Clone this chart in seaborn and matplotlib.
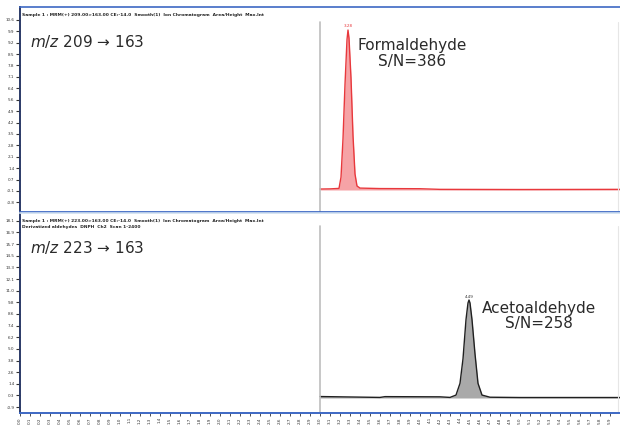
import numpy as np
import matplotlib
matplotlib.use("Agg")
import matplotlib.pyplot as plt
import seaborn as sns

# Chromatogram traces (time in min, intensity in % of peak height)
fa_time = [3.00, 3.10, 3.19, 3.21, 3.23, 3.25, 3.27, 3.28, 3.29, 3.31, 3.33, 3.35,
           3.37, 3.40, 3.60, 4.00, 4.20, 5.00, 6.00]
fa_int = [0.6, 0.7, 1.0, 8, 32, 66, 94, 100, 95, 70, 34, 10, 2.5, 1.2, 0.9, 0.8, 0.4, 0.3, 0.4]

ac_time = [3.00, 3.60, 3.65, 4.20, 4.30, 4.36, 4.40, 4.43, 4.46, 4.48, 4.49, 4.50,
           4.52, 4.55, 4.58, 4.62, 4.70, 5.00, 6.00]
ac_int = [1.5, 0.6, 1.4, 1.2, 0.6, 3, 15, 40, 80, 97, 100, 97, 80, 45, 15, 3, 0.8, 0.5, 0.5]

transitions = ["$\\it{m/z}$ 209 \u2192 163", "$\\it{m/z}$ 223 \u2192 163"]
compounds = ["Formaldehyde\nS/N=386", "Acetoaldehyde\nS/N=258"]
peak_rt = ["3.28", "4.49"]
headers = [
    ["Sample 1 : MRM(+) 209.00>163.00 CE:-14.0  Smooth(1)  Ion Chromatogram  Area/Height  Max.Int"],
    ["Sample 1 : MRM(+) 223.00>163.00 CE:-14.0  Smooth(1)  Ion Chromatogram  Area/Height  Max.Int",
     "Derivatized aldehydes  DNPH  Ch2  Scan 1-2400"],
]

x_ticks = np.round(np.arange(0.0, 5.95, 0.1), 1)
x_labels = [f"{v:.1f}" for v in x_ticks]

sns.set_style("white")
plt.rcParams['font.family'] = ['DejaVu Sans']

fig = plt.figure(figsize=(6.2, 4.25), dpi=100)
W, H = 620, 425
ax1 = fig.add_axes([20 / W, 1 - 212 / H, 600 / W, 205 / H])
ax2 = fig.add_axes([20 / W, 1 - 413 / H, 600 / W, 200 / H])

blue = "#3d68c4"
panels = [
    (ax1, fa_time, fa_int, "#e8383c", "#f6a3a6", (-13.75, 114.4)),
    (ax2, ac_time, ac_int, "#202020", "#a9a9a9", (-15.3, 188.8)),
]

for i, (ax, t, y, lc, fc, ylim) in enumerate(panels):
    ax.fill_between(t, 0, y, color=fc, lw=0)
    sns.lineplot(x=t, y=y, ax=ax, color=lc, lw=1.0)
    ax.set_xlim(0, 6.0)
    ax.set_ylim(*ylim)
    ax.set_xlabel("")
    ax.set_ylabel("")

    # start of displayed chromatogram
    top_frac = 1 - (15 if i == 0 else 13) / (205 if i == 0 else 200)
    ax.axvline(3.0, ymin=0, ymax=top_frac, color="#bdbdbd", lw=1.2)
    ax.axvline(5.98, ymin=0, ymax=top_frac, color="#e6e6e6", lw=0.8)

    ax.spines["right"].set_visible(False)
    ax.spines["left"].set_color("#2b3a67")
    ax.spines["left"].set_linewidth(1.4)
    ax.spines["bottom"].set_color(blue)
    ax.spines["bottom"].set_linewidth(2.0 if i == 0 else 1.4)
    ax.spines["top"].set_color(blue if i == 0 else "#d0e0f0")
    ax.spines["top"].set_linewidth(1.2)

    yt = np.linspace(ylim[0] + 6, ylim[1] - 8, 17)
    ax.set_yticks(yt)
    ax.set_yticklabels([f"{v / 10:.1f}" for v in yt], fontsize=3)
    ax.tick_params(axis="y", direction="out", length=3, width=0.8, pad=1,
                   colors="#333333", left=True)

    ax.text(0.017, 0.83, transitions[i], transform=ax.transAxes,
            fontsize=11, color="#2a2a2a", va="center")
    for j, line in enumerate(headers[i]):
        ax.text(0.003, 0.97 - j * 0.03, line, transform=ax.transAxes, fontsize=3.2,
                color="#222222", va="top", fontweight="bold")

pk1 = fa_int.index(max(fa_int))
ax1.text(fa_time[pk1], 101, peak_rt[0], fontsize=3, ha="center", va="bottom", color="#e8383c")
ax1.text(3.92, 85.3, compounds[0], fontsize=11, ha="center", va="center",
         color="#2a2a2a", linespacing=1.05)
pk2 = ac_int.index(max(ac_int))
ax2.text(ac_time[pk2], 101, peak_rt[1], fontsize=3, ha="center", va="bottom", color="#333333")
ax2.text(5.19, 83.7, compounds[1], fontsize=11, ha="center", va="center",
         color="#2a2a2a", linespacing=1.05)

ax1.set_xticks([])
ax2.set_xticks(x_ticks)
ax2.set_xticklabels(x_labels, fontsize=3, rotation=90)
ax2.tick_params(axis="x", direction="out", length=2, width=0.6, pad=1,
                colors="#333333", bottom=True)

fig.savefig("out.png", dpi=100)
